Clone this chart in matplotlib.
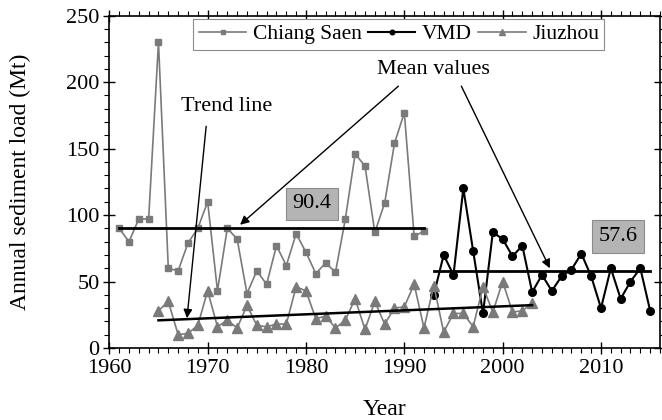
"""
Annual sediment load at Chiang Saen, VMD and Jiuzhou with mean values and trend line
"""
import numpy as np
import matplotlib
matplotlib.use('Agg')
import matplotlib.pyplot as plt
from matplotlib.ticker import MultipleLocator

plt.rcParams['font.family'] = ['Liberation Serif', 'DejaVu Serif']
plt.rcParams['font.size'] = 16

# Chiang Saen, 1961-1992
cs_years = list(range(1961, 1993))
cs_load = [90, 80, 97, 97, 230, 60, 58, 79, 90, 110, 43, 90, 82, 41, 58, 48,
           77, 62, 86, 72, 56, 64, 57, 97, 146, 137, 87, 109, 154, 177, 84, 88]

# VMD, 1993-2015
vmd_years = list(range(1993, 2016))
vmd_load = [40, 70, 55, 120, 73, 26, 87, 82, 69, 77, 42, 55, 43, 54, 59, 71,
            54, 30, 60, 37, 50, 60, 28]

# Jiuzhou, 1965-2003
jz_years = list(range(1965, 2004))
jz_load = [28, 35, 10, 11, 17, 43, 16, 21, 15, 32, 17, 16, 18, 18, 46, 43,
           22, 24, 15, 21, 37, 14, 35, 18, 30, 31, 48, 15, 47, 12, 26, 26,
           16, 46, 27, 50, 27, 28, 34]

cs_mean = 90.4
vmd_mean = 57.6

gray = '#7a7a7a'

fig, ax = plt.subplots(figsize=(6.62, 4.2), dpi=100)
fig.subplots_adjust(left=109.3 / 662, right=660 / 662,
                    bottom=1 - 348 / 420, top=1 - 15.7 / 420)

ax.plot(cs_years, cs_load, color=gray, lw=1.2, marker='s', ms=5,
        label='Chiang Saen')
ax.plot(vmd_years, vmd_load, color='black', lw=1.5, marker='o', ms=5.5,
        label='VMD')
ax.plot(jz_years, jz_load, color=gray, lw=1.2, marker='^', ms=6.5,
        label='Jiuzhou')

# mean values
ax.plot([cs_years[0], cs_years[-1]], [cs_mean, cs_mean], color='black', lw=2)
ax.plot([vmd_years[0], vmd_years[-1]], [vmd_mean, vmd_mean], color='black', lw=2)

# trend line (linear fit)
k, b = np.polyfit(jz_years, jz_load, 1)
jz_x = np.array([jz_years[0], jz_years[-1]])
ax.plot(jz_x, k * jz_x + b, color='black', lw=1.8)

box = dict(boxstyle='square,pad=0.3', fc='#b4b4b4', ec='#8c8c8c', lw=0.8)
ax.text(1980.6, 108.5, f'{cs_mean}', ha='center', va='center', bbox=box)
ax.text(2011.7, 84, f'{vmd_mean}', ha='center', va='center', bbox=box)

arrow = dict(arrowstyle='-|>', color='black', lw=1, mutation_scale=13,
             shrinkA=0, shrinkB=0)
ax.text(1971.9, 182, 'Trend line', ha='center', va='center')
ax.annotate('', xy=(1967.9, 22.4), xytext=(1969.85, 166.8), arrowprops=arrow)
ax.text(1993, 209.5, 'Mean values', ha='center', va='center')
ax.annotate('', xy=(1973.3, 92.7), xytext=(1989.4, 197), arrowprops=arrow)
ax.annotate('', xy=(2004.8, 60), xytext=(1995.8, 197), arrowprops=arrow)

ax.set_xlim(1960, 2016)
ax.set_ylim(0, 250)
ax.xaxis.set_major_locator(MultipleLocator(10))
ax.xaxis.set_minor_locator(MultipleLocator(1))
ax.yaxis.set_major_locator(MultipleLocator(50))
ax.yaxis.set_minor_locator(MultipleLocator(10))
ax.tick_params(which='both', top=True, right=True)
ax.tick_params(which='major', direction='inout', length=8, width=1)
ax.tick_params(which='minor', direction='out', length=3.5, width=0.8)
ax.tick_params(axis='x', which='major', pad=4)
ax.tick_params(axis='y', which='major', pad=3)
for s in ax.spines.values():
    s.set_linewidth(1.2)

ax.set_xlabel('Year', fontsize=17, labelpad=15)
ax.set_ylabel('Annual sediment load (Mt)', fontsize=17, labelpad=25)

leg = ax.legend(loc='upper center', bbox_to_anchor=(0.526, 0.99), ncol=3,
                fontsize=15.5, fancybox=False, edgecolor='#8c8c8c',
                framealpha=1, markerscale=0.6, handlelength=2.2,
                handletextpad=0.3, columnspacing=0.3, borderpad=0.25,
                borderaxespad=0)
leg.get_frame().set_linewidth(0.8)

fig.savefig('out.png', dpi=100)
